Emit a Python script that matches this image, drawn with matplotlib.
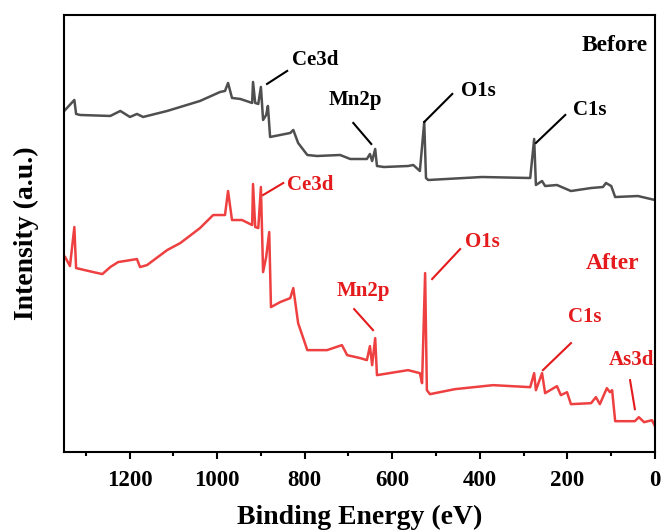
import numpy as np
import matplotlib
matplotlib.use("Agg")
import matplotlib.pyplot as plt
from matplotlib.ticker import MultipleLocator

plt.rcParams['font.family'] = ['Liberation Serif', 'DejaVu Serif']
plt.rcParams['font.weight'] = 'bold'

# Before (grey), binding energy (eV) and intensity (a.u.)
be_before = [1347, 1326, 1322, 1313, 1244, 1221, 1199, 1183, 1169, 1114, 1039, 993,
             982, 975, 966, 947, 920, 918, 913, 906, 900, 895, 888, 884, 879, 856,
             833, 826, 815, 794, 772, 719, 696, 658, 651, 646, 639, 635, 619, 564,
             552, 537, 527, 523, 518, 395, 285, 276, 272, 258, 251, 224, 192, 146,
             119, 112, 100, 91, 39, 0]
int_before = [342, 352, 338, 337, 336, 341, 335, 338, 335, 341, 351, 360,
              361, 369, 354, 353, 349, 370, 349, 348, 365, 332, 337, 346, 315, 317,
              319, 322, 309, 297, 296, 297, 293, 293, 298, 291, 303, 286, 285, 286,
              287, 281, 330, 274, 272, 275, 274, 313, 267, 271, 266, 267, 261, 264,
              265, 269, 266, 255, 256, 252]

# After (red)
be_after = [1347, 1336, 1326, 1322, 1283, 1262, 1244, 1226, 1183, 1176, 1160, 1114,
            1084, 1039, 1009, 982, 975, 966, 943, 920, 918, 913, 906, 900, 895, 888,
            881, 877, 856, 833, 826, 815, 794, 749, 715, 703, 673, 658, 651, 646,
            639, 635, 564, 537, 532, 525, 521, 514, 457, 370, 285, 276, 272, 258,
            251, 224, 215, 201, 192, 146, 135, 126, 110, 103, 98, 91, 46, 37, 25, 7, 0]
int_after = [195, 186, 225, 184, 180, 178, 185, 190, 193, 185, 187, 202,
             209, 224, 237, 237, 261, 232, 232, 227, 268, 225, 224, 265, 180, 195,
             220, 145, 150, 154, 164, 129, 102, 102, 107, 97, 94, 92, 106, 87,
             114, 77, 82, 79, 69, 179, 62, 58, 63, 67, 65, 79, 62, 79,
             59, 66, 57, 60, 48, 49, 55, 48, 64, 60, 62, 31, 31, 35, 30, 32, 26]

# peak labels: text, text position, line start, line end
labels_before = [("Ce3d", (776, 392), (886, 368), (840, 381)),
                 ("Mn2p", (685, 352), (689, 329), (648, 308)),
                 ("O1s", (404, 361), (527, 330), (463, 358)),
                 ("C1s", (148, 342), (272, 309), (205, 337))]
labels_after = [("Ce3d", (788, 267), (895, 257), (849, 269)),
                ("Mn2p", (667, 161), (687, 143), (644, 122)),
                ("O1s", (395, 210), (509, 173), (445, 203)),
                ("C1s", (160, 135), (256, 82), (192, 109)),
                ("As3d", (53, 92), (57, 72), (46, 43))]

c_before = "#4f4f4f"
c_after = "#ee4040"
c_text_after = "#e41a1c"

fig = plt.figure(figsize=(6.65, 5.32), dpi=100)
ax = fig.add_axes([0.096, 0.150, 0.889, 0.822])

ax.plot(be_before, int_before, color=c_before, lw=1.8)
ax.plot(be_after, int_after, color=c_after, lw=1.8)

for txt, tpos, p0, p1 in labels_before:
    ax.plot([p0[0], p1[0]], [p0[1], p1[1]], color="black", lw=1.5)
    ax.text(tpos[0], tpos[1], txt, color="black", fontsize=15, fontweight="bold",
            ha="center", va="center")
for txt, tpos, p0, p1 in labels_after:
    ax.plot([p0[0], p1[0]], [p0[1], p1[1]], color=c_text_after, lw=1.5)
    ax.text(tpos[0], tpos[1], txt, color=c_text_after, fontsize=15, fontweight="bold",
            ha="center", va="center")

ax.text(91, 406, "Before", color="black", fontsize=17, fontweight="bold",
        ha="center", va="center")
ax.text(96, 189, "After", color=c_text_after, fontsize=17, fontweight="bold",
        ha="center", va="center")

ax.set_xlim(1350, 0)
ax.set_ylim(0, 437)
ax.xaxis.set_major_locator(MultipleLocator(200))
ax.xaxis.set_minor_locator(MultipleLocator(100))
ax.set_yticks([])
ax.tick_params(axis="x", which="major", direction="out", length=5, width=1.5,
               labelsize=16.5, pad=8)
ax.tick_params(axis="x", which="minor", direction="out", length=3, width=1.5)
for s in ax.spines.values():
    s.set_linewidth(1.5)

ax.set_xlabel("Binding Energy (eV)", fontsize=20, fontweight="bold", labelpad=10)
ax.set_ylabel("Intensity (a.u.)", fontsize=20, fontweight="bold", labelpad=18)

fig.savefig("out.png", dpi=100)
